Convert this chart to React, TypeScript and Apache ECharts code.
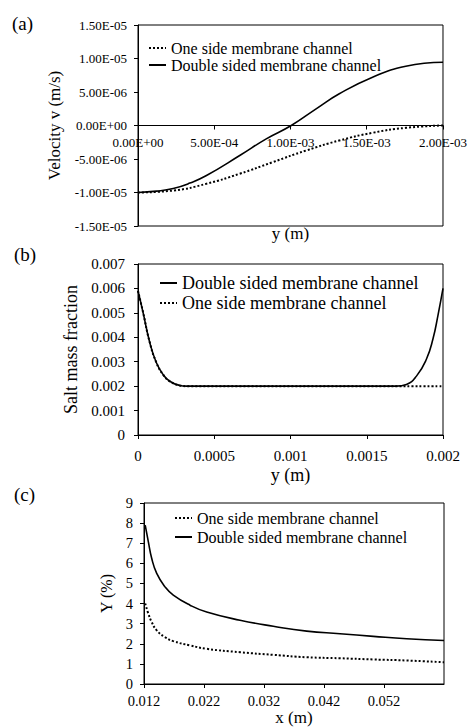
import React, { useEffect, useRef } from "react";
import * as echarts from "echarts";

// Panel (a): velocity profile
const aOneX = [0, 0.000231, 0.000449, 0.000667, 0.000884, 0.001103, 0.00132, 0.001538, 0.001756, 0.002];
const aOneY = [-1.0e-5, -9.7e-6, -8.7e-6, -7.2e-6, -5.47e-6, -3.73e-6, -2.24e-6, -1.09e-6, -0.35e-6, 0];
const aDblX = [0, 0.000122, 0.000231, 0.00034, 0.000449, 0.000667, 0.000841, 0.001005, 0.001168, 0.00132, 0.001538, 0.001756, 0.002];
const aDblY = [-1.0e-5, -9.8e-6, -9.4e-6, -8.6e-6, -7.46e-6, -4.48e-6, -1.99e-6, 0, 2.49e-6, 4.73e-6, 7.21e-6, 8.85e-6, 9.45e-6];

// Panel (b): salt mass fraction
const bDblX = [0, 0.0000328, 0.0000767, 0.00012, 0.000164, 0.000208, 0.000273, 0.000317, 0.001694, 0.00176, 0.001826, 0.001891, 0.001934, 0.001967, 0.002];
const bDblY = [0.0059, 0.00503, 0.0038, 0.00297, 0.00248, 0.0022, 0.00203, 0.002, 0.002, 0.00207, 0.00241, 0.0031, 0.00393, 0.0049, 0.006];
const bOneX = [0, 0.0000328, 0.0000767, 0.00012, 0.000164, 0.000208, 0.000273, 0.000317, 0.002];
const bOneY = [0.0059, 0.00503, 0.0038, 0.00297, 0.00248, 0.0022, 0.00203, 0.002, 0.002];

// Panel (c): Y (%) along x
const cX = [0.0122, 0.01272, 0.01328, 0.01412, 0.0155, 0.01688, 0.01967, 0.02245, 0.028, 0.03355, 0.03912, 0.04467, 0.05022, 0.05578, 0.062];
const cDblY = [7.9, 7.08, 6.25, 5.5, 4.83, 4.42, 3.92, 3.58, 3.17, 2.87, 2.63, 2.5, 2.37, 2.25, 2.16];
const cOneY = [4.0, 3.5, 3.08, 2.67, 2.33, 2.13, 1.92, 1.75, 1.58, 1.45, 1.33, 1.28, 1.22, 1.17, 1.08];

const ONE = "One side membrane channel";
const DBL = "Double sided membrane channel";
const FONT = "'Liberation Serif', 'Times New Roman', serif";

const zip = (xs: number[], ys: number[]) => xs.map((x, i) => [x, ys[i]]);

const expFmt = (v: number) => {
  if (Math.abs(v) < 1e-12) v = 0;
  const [m, e] = v.toExponential(2).split("e");
  const sign = e[0];
  const d = e.slice(1).padStart(2, "0");
  return m + "E" + sign + d;
};

const axisCommon = (fontSize: number, margin: number) => ({
  axisLine: { show: true, onZero: false, lineStyle: { color: "#000", width: 1 } },
  axisTick: { show: true, length: 4, lineStyle: { color: "#000" } },
  axisLabel: { color: "#000", fontFamily: FONT, fontSize, margin },
  splitLine: { show: false },
});

export default function App() {
  const ref = useRef<HTMLDivElement>(null);
  useEffect(() => {
    if (!ref.current) return;
    const chart = echarts.init(ref.current, undefined, { renderer: "svg" });
    const solid = { color: "#000", width: 1.6, type: "solid" as const };
    const dotted = { color: "#000", width: 2, type: "dotted" as const };
    const lineSeries = (name: string, idx: number, data: number[][], style: any) => ({
      type: "line",
      name,
      xAxisIndex: idx,
      yAxisIndex: idx,
      data,
      symbol: "none",
      smooth: 0.5,
      lineStyle: style,
      itemStyle: { color: "#000" },
    });
    const legendBase = {
      orient: "vertical",
      padding: 0,
      itemGap: 0,
      itemWidth: 17,
      itemHeight: 10,
      itemStyle: { color: "transparent", borderColor: "transparent", borderWidth: 0, opacity: 0 },
    };

    chart.setOption({
      animation: false,
      backgroundColor: "#fff",
      textStyle: { fontFamily: FONT },
      grid: [
        { left: 138, top: 25, width: 306, height: 201, show: true, borderColor: "#000", borderWidth: 1 },
        { left: 138, top: 264, width: 305, height: 171, show: true, borderColor: "#000", borderWidth: 1 },
        { left: 144, top: 503, width: 300, height: 181, show: true, borderColor: "#000", borderWidth: 1 },
      ],
      xAxis: [
        {
          ...axisCommon(13, 10),
          type: "value", gridIndex: 0, min: 0, max: 0.002, interval: 0.0005,
          offset: -100.5,
          axisLabel: { ...axisCommon(13, 10).axisLabel, formatter: expFmt },
          name: "y (m)", nameLocation: "middle", nameGap: 99,
          nameTextStyle: { color: "#000", fontFamily: FONT, fontSize: 17 },
        },
        {
          ...axisCommon(15, 13),
          type: "value", gridIndex: 1, min: 0, max: 0.002, interval: 0.0005,
          axisLabel: { ...axisCommon(15, 13).axisLabel, formatter: (v: number) => String(+v.toFixed(4)) },
          name: "y (m)", nameLocation: "middle", nameGap: 31,
          nameTextStyle: { color: "#000", fontFamily: FONT, fontSize: 18 },
        },
        {
          ...axisCommon(14.5, 9),
          type: "value", gridIndex: 2, min: 0.012, max: 0.062, interval: 0.01,
          axisLabel: { ...axisCommon(14.5, 9).axisLabel, showMaxLabel: false, formatter: (v: number) => String(+v.toFixed(3)) },
          name: "x (m)", nameLocation: "middle", nameGap: 23,
          nameTextStyle: { color: "#000", fontFamily: FONT, fontSize: 17 },
        },
      ],
      yAxis: [
        {
          ...axisCommon(13, 11),
          type: "value", gridIndex: 0, min: -1.5e-5, max: 1.5e-5, interval: 5e-6,
          axisLabel: { ...axisCommon(13, 11).axisLabel, formatter: expFmt },
          name: "Velocity v (m/s)", nameLocation: "middle", nameGap: 75,
          nameTextStyle: { color: "#000", fontFamily: FONT, fontSize: 17 },
        },
        {
          ...axisCommon(15, 13),
          type: "value", gridIndex: 1, min: 0, max: 0.007, interval: 0.001,
          axisLabel: { ...axisCommon(15, 13).axisLabel, formatter: (v: number) => String(+v.toFixed(3)) },
          name: "Salt mass fraction", nameLocation: "middle", nameGap: 52,
          nameTextStyle: { color: "#000", fontFamily: FONT, fontSize: 18 },
        },
        {
          ...axisCommon(14.5, 11),
          type: "value", gridIndex: 2, min: 0, max: 9, interval: 1,
          name: "Y (%)", nameLocation: "middle", nameGap: 26,
          nameTextStyle: { color: "#000", fontFamily: FONT, fontSize: 16 },
        },
      ],
      legend: [
        {
          ...legendBase, left: 148, top: 39.5, data: [ONE, DBL],
          textStyle: { color: "#000", fontFamily: FONT, fontSize: 16, lineHeight: 17 },
        },
        {
          ...legendBase, left: 159, top: 273, data: [DBL, ONE],
          textStyle: { color: "#000", fontFamily: FONT, fontSize: 18, lineHeight: 20 },
        },
        {
          ...legendBase, left: 174, top: 508.5, data: [ONE, DBL],
          textStyle: { color: "#000", fontFamily: FONT, fontSize: 16, lineHeight: 19 },
        },
      ],
      graphic: [
        { type: "text", x: 12, y: 23.5, style: { text: "(a)", font: "19px " + FONT, fill: "#000", verticalAlign: "middle" } },
        { type: "text", x: 14, y: 254, style: { text: "(b)", font: "19px " + FONT, fill: "#000", verticalAlign: "middle" } },
        { type: "text", x: 14, y: 494, style: { text: "(c)", font: "19px " + FONT, fill: "#000", verticalAlign: "middle" } },
      ],
      series: [
        lineSeries(ONE, 0, zip(aOneX, aOneY), dotted),
        lineSeries(DBL, 0, zip(aDblX, aDblY), solid),
        lineSeries(ONE, 1, zip(bOneX, bOneY), dotted),
        lineSeries(DBL, 1, zip(bDblX, bDblY), solid),
        lineSeries(ONE, 2, zip(cX, cOneY), dotted),
        lineSeries(DBL, 2, zip(cX, cDblY), solid),
      ],
    });
    return () => chart.dispose();
  }, []);
  return (
    <div
      ref={ref}
      style={{ position: "absolute", left: 0, top: 0, width: 470, height: 728, background: "#fff" }}
    />
  );
}
